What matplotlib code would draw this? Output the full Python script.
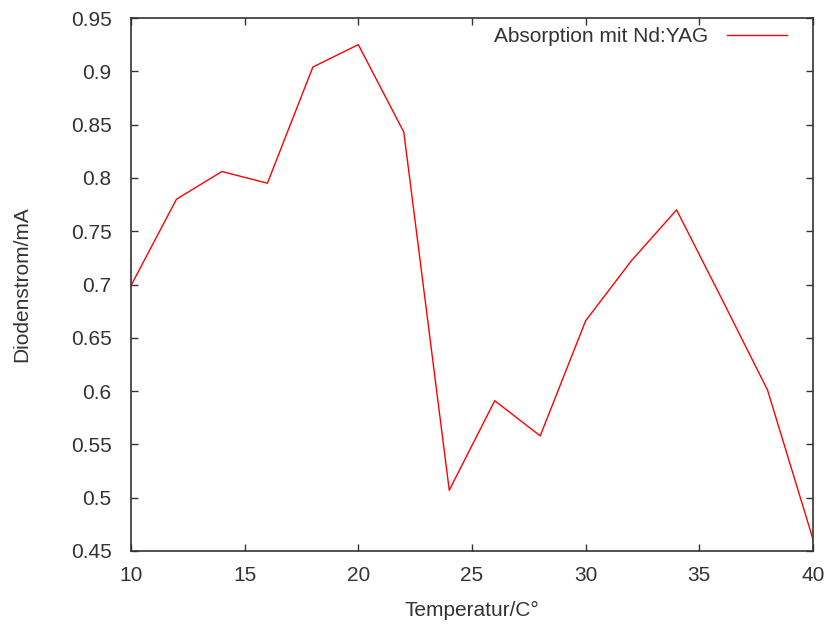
import matplotlib
matplotlib.use('Agg')
import matplotlib.pyplot as plt

temperature = [10, 12, 14, 16, 18, 20, 22, 24, 26, 28, 30, 32, 34, 36, 38, 40]
current = [0.699, 0.780, 0.806, 0.795, 0.904, 0.925, 0.843, 0.507, 0.591, 0.558,
           0.666, 0.722, 0.770, 0.686, 0.601, 0.461]

plt.rcParams['font.family'] = ['Liberation Sans', 'DejaVu Sans']
plt.rcParams['font.size'] = 15

fig = plt.figure(figsize=(8.25, 6.26), dpi=100)
ax = fig.add_axes([131 / 825, 1 - 551 / 626, 682 / 825, 533 / 626])

ax.plot(temperature, current, color='#ff0000', linewidth=1.0, label='Absorption mit Nd:YAG')

ax.set_xlim(10, 40)
ax.set_ylim(0.45, 0.95)
ax.set_xticks([10, 15, 20, 25, 30, 35, 40])
ax.set_xticklabels(['10', '15', '20', '25', '30', '35', '40'])
ax.set_yticks([0.45, 0.5, 0.55, 0.6, 0.65, 0.7, 0.75, 0.8, 0.85, 0.9, 0.95])
ax.set_yticklabels(['0.45', '0.5', '0.55', '0.6', '0.65', '0.7', '0.75', '0.8', '0.85', '0.9', '0.95'])
ax.tick_params(direction='in', top=True, right=True, length=5, width=1,
               colors='#333333', labelcolor='#333333')
ax.tick_params(axis='y', pad=14)
ax.tick_params(axis='x', pad=11)
for s in ax.spines.values():
    s.set_color('#333333')
    s.set_linewidth(1.2)

ax.set_xlabel('Temperatur/C°', color='#333333', va='center')
ax.set_ylabel('Diodenstrom/mA', color='#333333', va='center')
ax.xaxis.set_label_coords(0.5, (551 - 610) / 533)
ax.yaxis.set_label_coords((22 - 131) / 682, 0.5)

leg = ax.legend(loc='upper right', frameon=False, markerfirst=False,
                handlelength=2.9, handletextpad=0.87, borderpad=0, borderaxespad=0,
                bbox_to_anchor=((787 - 131) / 682, 1 - 9 / 533))
for t in leg.get_texts():
    t.set_color('#333333')

fig.savefig('out.png', dpi=100)
